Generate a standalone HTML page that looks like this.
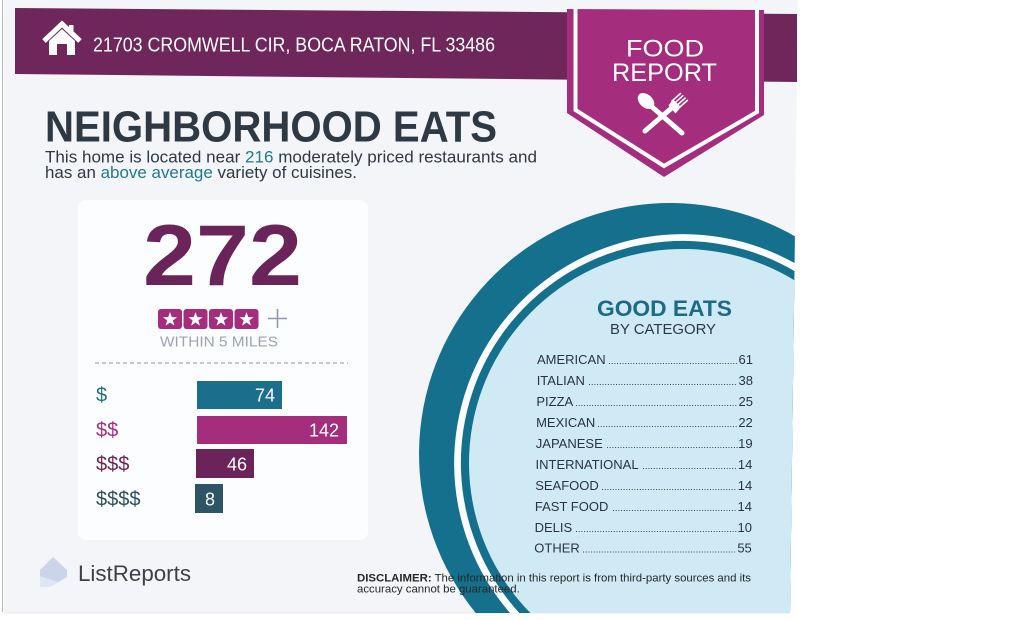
<!DOCTYPE html>
<html>
<head>
<meta charset="utf-8">
<style>
  html,body{margin:0;padding:0;background:#ffffff;width:1023px;height:620px;overflow:hidden;}
  svg{display:block;position:absolute;left:0;top:0;font-family:"Liberation Sans",Arial,sans-serif;}
</style>
</head>
<body>
<svg width="1023" height="620" viewBox="0 0 1023 620" xmlns="http://www.w3.org/2000/svg" overflow="hidden">
  <defs>
    <clipPath id="pg">
      <polygon points="4,0 798,0 790,613 4,613"/>
    </clipPath>
  </defs>

  <!-- page -->
  <rect x="0" y="0" width="1023" height="620" fill="#ffffff"/>
  <polygon points="4,0 798,0 790,613 4,613" fill="#f3f5f8"/>
  <line x1="2.5" y1="0" x2="2.5" y2="612" stroke="#b5b8bd" stroke-width="1"/>
  <line x1="4" y1="613" x2="790" y2="613" stroke="#e6e8eb" stroke-width="1"/>

  <!-- card behind 272 -->
  <rect x="78" y="200" width="290" height="340" rx="8" fill="#fcfdfe"/>

  <!-- circle (arcs limited to the page) -->
  <g clip-path="url(#pg)">
    <path d="M475.8,613 A251,251 0 0 1 798,238.1 L798,613 Z" fill="#14708d"/>
    <path d="M510,613 A229,229 0 0 1 798,265 L798,613 Z" fill="#fbfdfe"/>
    <path d="M519.3,613 A222,222 0 0 1 798,273.1 L798,613 Z" fill="#14708d"/>
    <path d="M530.4,613 A214,214 0 0 1 798,282.5 L798,613 Z" fill="#cfeaf4"/>
  </g>

  <!-- header bar -->
  <polygon points="15,8 797,14 797,82 15,74" fill="#6e265b"/>

  <!-- house icon -->
  <polyline points="44,41 62,24 80,41" fill="none" stroke="#ffffff" stroke-width="5" stroke-linejoin="miter" stroke-linecap="butt"/>
  <rect x="69" y="25" width="4.5" height="9" fill="#ffffff"/>
  <polygon points="49,41 62,29 75,41 75,55 67,55 67,44 57,44 57,55 49,55" fill="#ffffff"/>

  <text x="93" y="51.5" font-size="20" fill="#ffffff" textLength="402" lengthAdjust="spacingAndGlyphs">21703 CROMWELL CIR, BOCA RATON, FL 33486</text>

  <!-- badge -->
  <polygon points="567,9 764,10 764,115 664,177 567,113" fill="#a52d7d"/>
  <polyline points="575.5,9 575.5,110 664,166 757,112 757,10" fill="none" stroke="#ffffff" stroke-width="4" stroke-linejoin="miter"/>
  <text x="665" y="56.5" font-size="24" fill="#ffffff" text-anchor="middle" textLength="78" lengthAdjust="spacingAndGlyphs">FOOD</text>
  <text x="664.5" y="81" font-size="25" fill="#ffffff" text-anchor="middle" textLength="105" lengthAdjust="spacingAndGlyphs">REPORT</text>

  <!-- spoon -->
  <line x1="651" y1="106" x2="682" y2="133" stroke="#ffffff" stroke-width="5" stroke-linecap="round"/>
  <ellipse cx="646" cy="101" rx="6.5" ry="9.5" fill="#ffffff" transform="rotate(-48 646 101)"/>
  <!-- fork -->
  <line x1="645" y1="131" x2="674" y2="106" stroke="#ffffff" stroke-width="5" stroke-linecap="round"/>
  <polygon points="668.5,105.5 675.5,113.5 681,107 673,99.5" fill="#ffffff"/>
  <g stroke="#ffffff" stroke-width="1.6" stroke-linecap="round">
    <line x1="672" y1="101" x2="680.5" y2="93.5"/>
    <line x1="674.3" y1="103.3" x2="682.8" y2="95.8"/>
    <line x1="676.6" y1="105.6" x2="685.1" y2="98.1"/>
    <line x1="678.9" y1="107.9" x2="687.4" y2="100.4"/>
  </g>

  <!-- headline -->
  <text x="45" y="141.5" font-size="44" font-weight="bold" fill="#2e3944" textLength="452" lengthAdjust="spacingAndGlyphs">NEIGHBORHOOD EATS</text>
  <text x="45" y="162.5" font-size="17" fill="#2e3944" textLength="492" lengthAdjust="spacingAndGlyphs">This home is located near <tspan fill="#1f7a8e">216</tspan> moderately priced restaurants and</text>
  <text x="45" y="178" font-size="17" fill="#2e3944" textLength="312" lengthAdjust="spacingAndGlyphs">has an <tspan fill="#1f7a8e">above average</tspan> variety of cuisines.</text>

  <!-- 272 -->
  <text x="143" y="285" font-size="86" font-weight="bold" fill="#6b2459" textLength="159" lengthAdjust="spacingAndGlyphs">272</text>

  <!-- stars -->
  <g>
    <rect x="158" y="309" width="24" height="20" rx="3" fill="#a52d7d"/>
    <rect x="183.5" y="309" width="24" height="20" rx="3" fill="#a52d7d"/>
    <rect x="209" y="309" width="24" height="20" rx="3" fill="#a52d7d"/>
    <rect x="234.5" y="309" width="24" height="20" rx="3" fill="#a52d7d"/>
    <polygon fill="#ffffff" transform="translate(170,319.5)" points="0,-7.5 1.8,-2.4 7.1,-2.3 2.9,0.9 4.4,6.1 0,3 -4.4,6.1 -2.9,0.9 -7.1,-2.3 -1.8,-2.4"/>
    <polygon fill="#ffffff" transform="translate(195.5,319.5)" points="0,-7.5 1.8,-2.4 7.1,-2.3 2.9,0.9 4.4,6.1 0,3 -4.4,6.1 -2.9,0.9 -7.1,-2.3 -1.8,-2.4"/>
    <polygon fill="#ffffff" transform="translate(221,319.5)" points="0,-7.5 1.8,-2.4 7.1,-2.3 2.9,0.9 4.4,6.1 0,3 -4.4,6.1 -2.9,0.9 -7.1,-2.3 -1.8,-2.4"/>
    <polygon fill="#ffffff" transform="translate(246.5,319.5)" points="0,-7.5 1.8,-2.4 7.1,-2.3 2.9,0.9 4.4,6.1 0,3 -4.4,6.1 -2.9,0.9 -7.1,-2.3 -1.8,-2.4"/>
    <line x1="268" y1="318.5" x2="287" y2="318.5" stroke="#8e9bb3" stroke-width="1.6"/>
    <line x1="277.5" y1="309" x2="277.5" y2="328" stroke="#8e9bb3" stroke-width="1.6"/>
  </g>

  <text x="160" y="346.5" font-size="14.5" fill="#9ba4b6" textLength="118" lengthAdjust="spacingAndGlyphs">WITHIN 5 MILES</text>

  <line x1="95" y1="363" x2="348" y2="363" stroke="#a3aab3" stroke-width="1.2" stroke-dasharray="4 3"/>

  <!-- price bars -->
  <text x="96" y="401.5" font-size="20" fill="#1f6f8c">$</text>
  <rect x="197" y="381" width="85" height="28" fill="#1b6f8c"/>
  <text x="275" y="401.5" font-size="18" fill="#ffffff" text-anchor="end">74</text>

  <text x="96" y="436.5" font-size="20" fill="#a52d7d">$$</text>
  <rect x="197" y="416" width="150" height="28" fill="#a52d7d"/>
  <text x="339" y="436.5" font-size="18" fill="#ffffff" text-anchor="end">142</text>

  <text x="96" y="470.5" font-size="20" fill="#6b2459">$$$</text>
  <rect x="196" y="449" width="58" height="29" fill="#6b2459"/>
  <text x="247" y="470.5" font-size="18" fill="#ffffff" text-anchor="end">46</text>

  <text x="96" y="505.5" font-size="20" fill="#2d4f5f">$$$$</text>
  <rect x="195" y="484" width="28" height="29" fill="#2d5566"/>
  <text x="210" y="505.5" font-size="18" fill="#ffffff" text-anchor="middle">8</text>

  <!-- good eats -->
  <text x="664.5" y="316" font-size="22" font-weight="bold" fill="#1c6a85" text-anchor="middle" textLength="135" lengthAdjust="spacingAndGlyphs">GOOD EATS</text>
  <text x="663" y="334" font-size="15" fill="#2e3944" text-anchor="middle" textLength="106" lengthAdjust="spacingAndGlyphs">BY CATEGORY</text>

  <g font-size="13" fill="#2a3440">
    <text x="537" y="364">AMERICAN</text>
    <text x="753" y="364" text-anchor="end">61</text>
    <text x="536.7" y="385">ITALIAN</text>
    <text x="753" y="385" text-anchor="end">38</text>
    <text x="536.4" y="406">PIZZA</text>
    <text x="753" y="406" text-anchor="end">25</text>
    <text x="536.1" y="427">MEXICAN</text>
    <text x="752.8" y="427" text-anchor="end">22</text>
    <text x="535.8" y="448">JAPANESE</text>
    <text x="752.6" y="448" text-anchor="end">19</text>
    <text x="535.5" y="469">INTERNATIONAL</text>
    <text x="752.4" y="469" text-anchor="end">14</text>
    <text x="535.2" y="490">SEAFOOD</text>
    <text x="752.2" y="490" text-anchor="end">14</text>
    <text x="534.9" y="511">FAST FOOD</text>
    <text x="752" y="511" text-anchor="end">14</text>
    <text x="534.6" y="532">DELIS</text>
    <text x="752" y="532" text-anchor="end">10</text>
    <text x="534.3" y="552.5">OTHER</text>
    <text x="751.8" y="552.5" text-anchor="end">55</text>
  </g>
  <g stroke="#3a4450" stroke-width="1.1" stroke-dasharray="1 1.7">
    <line x1="609" y1="363.5" x2="737" y2="363.5"/>
    <line x1="589" y1="384.5" x2="737" y2="384.5"/>
    <line x1="576" y1="405.5" x2="737" y2="405.5"/>
    <line x1="598" y1="426.5" x2="737" y2="426.5"/>
    <line x1="607" y1="447.5" x2="738" y2="447.5"/>
    <line x1="643" y1="468.5" x2="736" y2="468.5"/>
    <line x1="602" y1="489.5" x2="736" y2="489.5"/>
    <line x1="613" y1="510.5" x2="736" y2="510.5"/>
    <line x1="576" y1="531.5" x2="737" y2="531.5"/>
    <line x1="583" y1="552" x2="735" y2="552"/>
  </g>

  <!-- logo -->
  <polygon points="40,570 53,557 67,570 67,577 50,587 40,587" fill="#cbd5ea"/>
  <polygon points="40,587 50,587 58,582 40,576" fill="#dfe6f3"/>
  <text x="78" y="581" font-size="22" fill="#3d4048" textLength="113" lengthAdjust="spacingAndGlyphs">ListReports</text>

  <!-- disclaimer -->
  <text x="357" y="581.5" font-size="11.4" fill="#262626" textLength="394" lengthAdjust="spacingAndGlyphs"><tspan font-weight="bold">DISCLAIMER:</tspan> The information in this report is from third-party sources and its</text>
  <text x="357" y="592.5" font-size="11.4" fill="#262626">accuracy cannot be guaranteed.</text>
</svg>
</body>
</html>
